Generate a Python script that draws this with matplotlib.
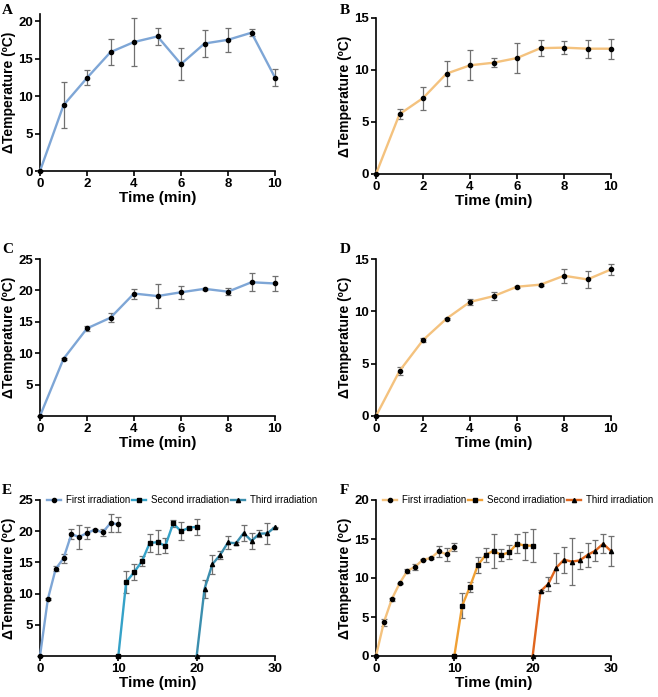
import numpy as np
import matplotlib
matplotlib.use("Agg")
import matplotlib.pyplot as plt

plt.rcParams['font.family'] = ['Liberation Sans', 'DejaVu Sans']

# ---- data ----
t10 = list(range(0, 11))

a_mean = [0, 8.8, 12.45, 15.9, 17.25, 18.0, 14.3, 17.05, 17.55, 18.5, 12.5]
a_err = [0, 3.05, 1.0, 1.7, 3.15, 1.1, 2.15, 1.75, 1.6, 0.5, 1.15]

b_mean = [0, 5.75, 7.3, 9.65, 10.45, 10.7, 11.15, 12.1, 12.15, 12.05, 12.05]
b_err = [0, 0.5, 1.1, 1.2, 1.45, 0.45, 1.4, 0.75, 0.6, 0.85, 0.95]

c_mean = [0, 9.1, 13.95, 15.65, 19.5, 19.1, 19.7, 20.25, 19.8, 21.3, 21.1]
c_err = [0, 0.15, 0.4, 0.7, 0.8, 1.9, 1.0, 0.15, 0.6, 1.45, 1.2]

d_mean = [0, 4.3, 7.25, 9.3, 10.9, 11.45, 12.35, 12.55, 13.4, 13.05, 14.0]
d_err = [0, 0.4, 0.2, 0.1, 0.25, 0.4, 0.1, 0.1, 0.65, 0.85, 0.55]

t_second = list(range(10, 21))
t_third = list(range(20, 31))

e2_mean = [0, 11.85, 13.4, 15.15, 18.1, 18.25, 17.65, 21.25, 20.0, 20.55, 20.7]
e2_err = [0, 1.7, 1.3, 0.8, 1.45, 1.9, 1.2, 0.6, 1.4, 0.2, 1.25]
e3_mean = [0, 10.75, 14.7, 16.2, 18.2, 18.05, 19.7, 18.45, 19.6, 19.65, 20.65]
e3_err = [0, 1.4, 1.55, 0.6, 1.0, 0.2, 1.3, 1.3, 0.6, 1.7, 0.1]

f2_mean = [0, 6.45, 8.9, 11.65, 12.95, 13.5, 12.95, 13.3, 14.4, 14.15, 14.15]
f2_err = [0, 1.6, 0.65, 1.05, 0.9, 2.2, 0.8, 0.9, 1.25, 1.8, 2.1]
f3_mean = [0, 8.3, 9.25, 11.3, 12.35, 12.1, 12.25, 12.95, 13.5, 14.4, 13.45]
f3_err = [0, 0.1, 0.9, 1.95, 1.65, 3.0, 1.1, 1.6, 1.35, 1.25, 1.9]

legend_labels = ['First irradiation', 'Second irradiation', 'Third irradiation']

blue = '#7ea6d6'
teal2 = '#35a2c8'
teal3 = '#3b8eae'
orange = '#f4c27e'
orange2 = '#f0a034'
orange3 = '#e0661e'

W, H = 658, 697
fig = plt.figure(figsize=(W / 100, H / 100), dpi=100)


def make_axes(l, r, t, b):
    return fig.add_axes([l / W, 1 - b / H, (r - l) / W, (b - t) / H])


def series(ax, x, y, e, color, marker, label=None):
    ax.errorbar(x, y, yerr=e, fmt='none', ecolor='#707070', elinewidth=0.9,
                capsize=2.2, capthick=0.9, zorder=2, clip_on=False)
    ax.plot(x, y, color=color, lw=1.7, marker=marker, ms=3.0, mfc='black',
            mec='black', zorder=3, clip_on=False, label=label)


def style(ax, xmax, ymax, yticks, xticks, letter, lx, ly):
    ax.set_xlim(0, xmax)
    ax.set_ylim(0, ymax)
    ax.set_xticks(xticks)
    ax.set_yticks(yticks)
    for s in ['top', 'right']:
        ax.spines[s].set_visible(False)
    for s in ['left', 'bottom']:
        ax.spines[s].set_linewidth(1.2)
    ax.tick_params(width=1.2, length=3.5, labelsize=9.5, pad=1.5)
    for lab in ax.get_xticklabels() + ax.get_yticklabels():
        lab.set_fontweight('bold')
    ax.set_xlabel('Time (min)', fontsize=11, fontweight='bold', labelpad=1)
    ax.set_ylabel('ΔTemperature (ºC)', fontsize=10, fontweight='bold', labelpad=2)
    fig.text(lx / W, 1 - ly / H, letter, fontsize=11, fontweight='bold',
             family='Liberation Serif', va='top', ha='left')


axA = make_axes(40, 275, 14, 171)
series(axA, t10, a_mean, a_err, blue, 'o')
style(axA, 10, 21, [0, 5, 10, 15, 20], range(0, 11, 2), 'A', 2, 4)

axB = make_axes(376, 611, 18, 174)
series(axB, t10, b_mean, b_err, orange, 'o')
style(axB, 10, 15, [0, 5, 10, 15], range(0, 11, 2), 'B', 340, 4)

axC = make_axes(40, 275, 259, 416)
series(axC, t10, c_mean, c_err, blue, 'o')
style(axC, 10, 25, [5, 10, 15, 20, 25], range(0, 11, 2), 'C', 2, 243)

axD = make_axes(376, 611, 259, 416)
series(axD, t10, d_mean, d_err, orange, 'o')
style(axD, 10, 15, [0, 5, 10, 15], range(0, 11, 2), 'D', 340, 243)

axE = make_axes(40, 275, 500, 656)
series(axE, t10, c_mean, c_err, blue, 'o', legend_labels[0])
series(axE, t_second, e2_mean, e2_err, teal2, 's', legend_labels[1])
series(axE, t_third, e3_mean, e3_err, teal3, '^', legend_labels[2])
style(axE, 30, 25, [5, 10, 15, 20, 25], [0, 10, 20, 30], 'E', 2, 484)

axF = make_axes(376, 611, 500, 656)
series(axF, t10, d_mean, d_err, orange, 'o', legend_labels[0])
series(axF, t_second, f2_mean, f2_err, orange2, 's', legend_labels[1])
series(axF, t_third, f3_mean, f3_err, orange3, '^', legend_labels[2])
style(axF, 30, 20, [0, 5, 10, 15, 20], [0, 10, 20, 30], 'F', 340, 484)

for ax in (axE, axF):
    ax.legend(loc='center left', bbox_to_anchor=(0.03, 1.0), ncol=3,
              frameon=False, fontsize=7, handlelength=1.4, handletextpad=0.5,
              columnspacing=0.25, borderaxespad=0, borderpad=0)

fig.savefig('out.png', dpi=100)
